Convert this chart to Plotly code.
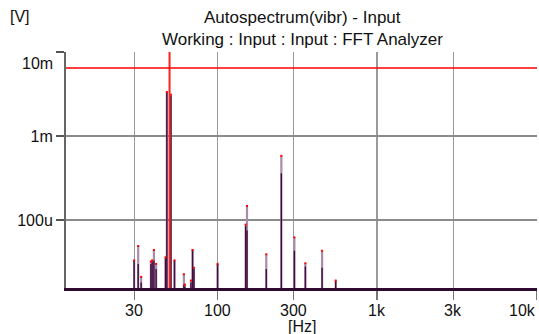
import math
import plotly.graph_objects as go

# Spectral line frequencies [Hz]
freqs = [30.0, 31.8, 33.2, 38.2, 38.9, 39.9, 41.2, 47.2, 48.1, 51.0, 53.7,
         61.5, 62.4, 68.1, 69.7, 71.1, 100.0, 150.0, 152.9, 202.0, 251.0,
         303.0, 355.0, 452.0, 550.0]
# Maximum level (light trace) [V]
peak_max = [3.3e-5, 4.9e-5, 2.1e-5, 3.2e-5, 3.3e-5, 4.4e-5, 3.0e-5, 3.6e-5,
            3.34e-3, 3.1e-3, 3.3e-5, 2.26e-5, 1.7e-5, 1.9e-5, 4.4e-5, 2.7e-5,
            3.0e-5, 8.8e-5, 1.47e-4, 3.9e-5, 5.8e-4, 6.2e-5, 3.05e-5, 4.3e-5, 1.9e-5]
# Current level (dark trace) [V]
peak_cur = [3.3e-5, 3.0e-5, 1.8e-5, 3.0e-5, 3.2e-5, 3.3e-5, 2.6e-5, 3.5e-5,
            3.34e-3, 3.0e-3, 3.3e-5, 1.7e-5, 1.6e-5, 1.8e-5, 4.4e-5, 2.6e-5,
            3.0e-5, 8.5e-5, 7.5e-5, 2.6e-5, 3.6e-4, 4.3e-5, 2.8e-5, 2.7e-5, 1.9e-5]

floor_level = 1.0e-5
limit_level = 6.45e-3
cursor_freq = 50.0

x_ticks = [30, 100, 300, 1000, 3000, 10000]
x_ticktext = ["30", "100", "300", "1k", "3k", "10k"]
y_ticks = [1e-2, 1e-3, 1e-4]
y_ticktext = ["", "1m", "100u"]

def stems(xs, ys):
    X, Y = [], []
    for f, v in zip(xs, ys):
        X += [f, f, None]
        Y += [floor_level, v, None]
    return X, Y

fig = go.Figure()
lx, ly = stems(freqs, peak_max)
fig.add_trace(go.Scatter(x=lx, y=ly, mode="lines",
                         line=dict(color="#a88ca8", width=2.2),
                         hoverinfo="skip", showlegend=False))
dx, dy = stems(freqs, peak_cur)
fig.add_trace(go.Scatter(x=dx, y=dy, mode="lines",
                         line=dict(color="#3e0d3e", width=1.4),
                         hoverinfo="skip", showlegend=False))
fig.add_trace(go.Scatter(x=freqs, y=peak_max, mode="markers",
                         marker=dict(color="#ff0000", size=2, symbol="square"),
                         hoverinfo="skip", showlegend=False))
# cursor line
fig.add_trace(go.Scatter(x=[cursor_freq, cursor_freq], y=[floor_level, 1],
                         mode="lines", line=dict(color="#ff2020", width=2),
                         hoverinfo="skip", showlegend=False))
# limit line
fig.add_trace(go.Scatter(x=[5, 20000], y=[limit_level, limit_level],
                         mode="lines", line=dict(color="#ff0000", width=1.5),
                         hoverinfo="skip", showlegend=False))

font = dict(family="Liberation Sans, Arial, sans-serif", size=16, color="#111111")
tfont = dict(family="Liberation Sans, Arial, sans-serif", size=17, color="#111111")

W, H = 539, 334
pl, pr, pt, pb = 66, 2, 52, 46

fig.update_layout(
    width=W, height=H,
    margin=dict(l=pl, r=pr, t=pt, b=pb, autoexpand=False),
    paper_bgcolor="white", plot_bgcolor="white",
    font=font,
    showlegend=False,
    xaxis=dict(type="log", range=[1.05, 4.002], tickvals=x_ticks,
               showticklabels=False,
               showgrid=True, gridcolor="#9a9a9a", gridwidth=1.3,
               ticks="outside", ticklen=9, tickcolor="#777777", tickwidth=1.3,
               showline=True, linecolor="#2e0a2e", linewidth=3,
               zeroline=False, automargin=False),
    yaxis=dict(type="log", range=[-4.81, -2.0], tickvals=y_ticks, ticktext=y_ticktext,
               showgrid=True, gridcolor="#8a8a8a", gridwidth=1.3,
               ticks="outside", ticklen=8, tickcolor="#555555", tickwidth=1.5,
               showline=True, linecolor="#666666", linewidth=2,
               zeroline=False, tickfont=font, automargin=False),
)

pw, ph = W - pl - pr, H - pt - pb
def px(x):
    return (x - pl) / pw
def py(y):
    return (H - pb - y) / ph

# x tick labels placed on the axis scale
for v, t in zip(x_ticks, x_ticktext):
    last = (v == x_ticks[-1])
    fig.add_annotation(text=t, x=math.log10(v), xref="x", y=py(310), yref="paper",
                       showarrow=False, font=font,
                       xanchor="right" if last else "center", yanchor="middle",
                       xshift=1 if last else 0)

fig.add_annotation(text="Autospectrum(vibr) - Input", x=px(302), y=py(18), xref="paper", yref="paper",
                   showarrow=False, font=tfont, xanchor="center", yanchor="middle")
fig.add_annotation(text="Working : Input : Input : FFT Analyzer", x=px(302), y=py(40), xref="paper", yref="paper",
                   showarrow=False, font=tfont, xanchor="center", yanchor="middle")
fig.add_annotation(text="[V]", x=px(8), y=py(17), xref="paper", yref="paper",
                   showarrow=False, font=font, xanchor="left", yanchor="middle")
fig.add_annotation(text="10m", x=px(55), y=py(63), xref="paper", yref="paper",
                   showarrow=False, font=font, xanchor="right", yanchor="middle")
fig.add_annotation(text="[Hz]", x=px(302), y=py(326), xref="paper", yref="paper",
                   showarrow=False, font=font, xanchor="center", yanchor="middle")

fig.write_html("out.html", config={"displayModeBar": False, "staticPlot": True},
               post_script="document.body.style.margin='0';document.body.style.overflow='hidden';")
